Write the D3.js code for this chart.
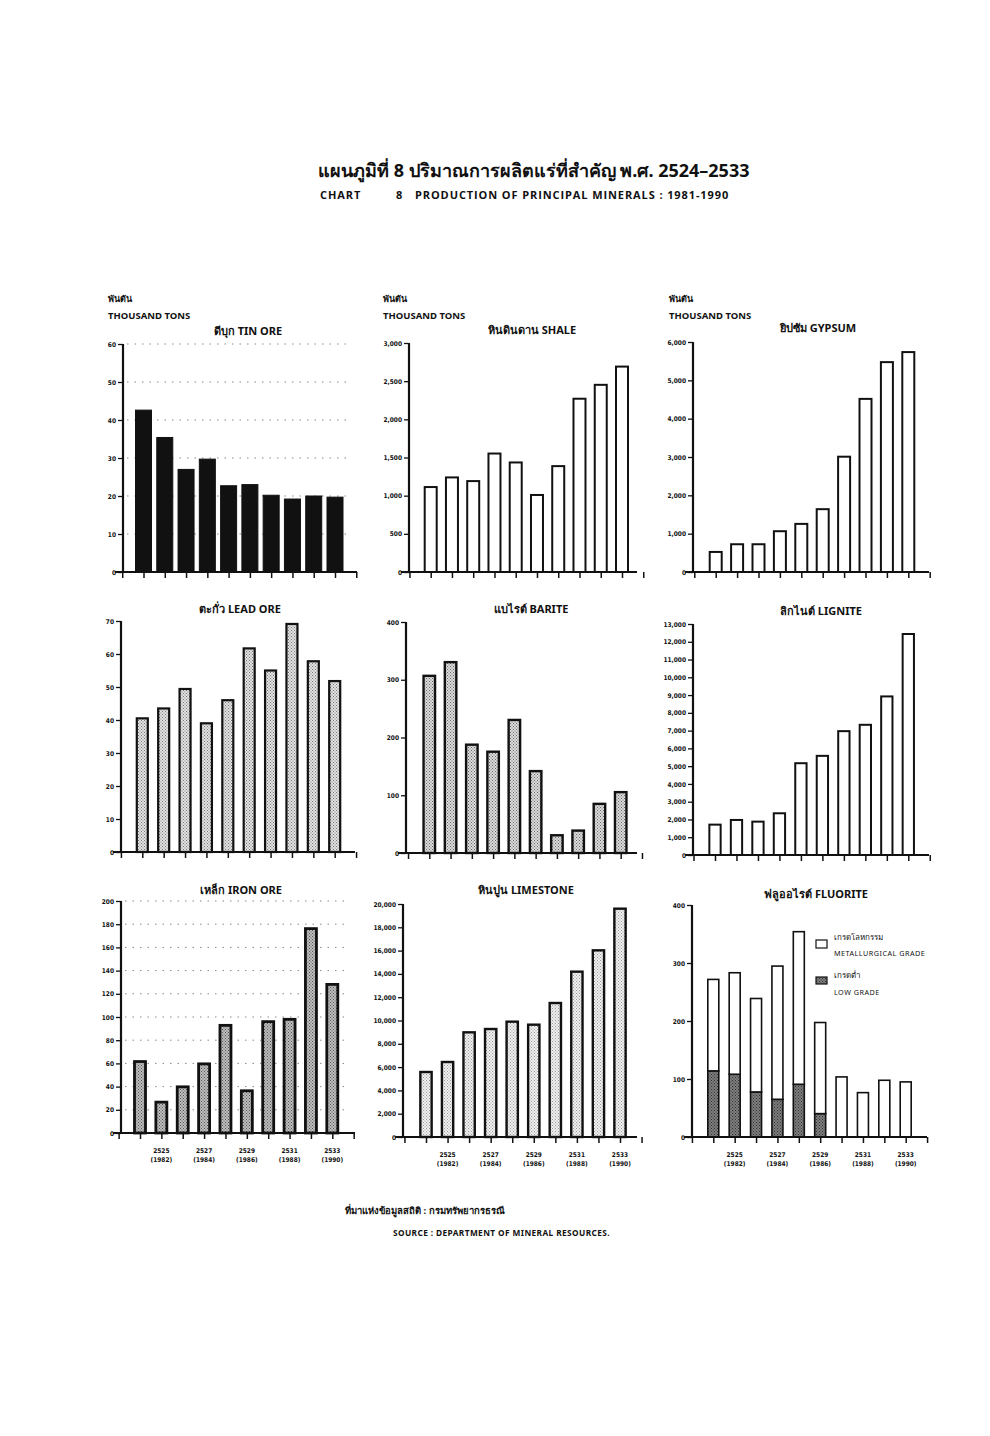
<!DOCTYPE html>
<html><head><meta charset="utf-8">
<script src="https://cdn.jsdelivr.net/npm/d3@7"></script>
<style>
body{margin:0;background:#fff;}
svg{display:block;}
text{font-family:"Noto Sans","DejaVu Sans",sans-serif;fill:#111;}
</style></head>
<body><svg id="c" width="990" height="1436"></svg>
<script>
// ---- data ----
const yearsBE = ["2524","2525","2526","2527","2528","2529","2530","2531","2532","2533"];
const yearsCE = ["1981","1982","1983","1984","1985","1986","1987","1988","1989","1990"];
const tinOre    = [42.6,35.4,27.0,29.7,22.7,23.0,20.2,19.2,20.0,19.7];
const shale     = [1113,1239,1191,1552,1435,1009,1387,2270,2452,2691];
const gypsum    = [523,724,724,1064,1255,1639,3008,4516,5475,5737];
const leadOre   = [40.5,43.5,49.4,39.0,46.0,61.7,55.0,69.1,57.8,51.8];
const barite    = [306.8,330.5,187.6,175.4,230.4,141.8,30.7,38.8,85.1,105.4];
const lignite   = [1709,1972,1878,2348,5166,5580,6970,7327,8924,12437];
const ironOre   = [61.6,26.6,39.8,59.6,92.8,36.4,96.0,98.0,176.2,128.1];
const limestone = [5579,6438,8984,9270,9900,9642,11502,14192,16023,19599];
const fluoriteLow = [114.0,108.2,77.7,65.0,90.9,40.3,0,0,0,0];
const fluoriteMet = [157.7,175.0,161.1,229.7,263.1,157.1,103.6,76.5,97.8,95.0];
const tinTicks = [0,10,20,30,40,50,60];
const shaleTicks = [0,500,1000,1500,2000,2500,3000];
const gypsumTicks = [0,1000,2000,3000,4000,5000,6000];
const leadTicks = [0,10,20,30,40,50,60,70];
const bariteTicks = [0,100,200,300,400];
const ligniteTicks = [0,1000,2000,3000,4000,5000,6000,7000,8000,9000,10000,11000,12000,13000];
const ironTicks = [0,20,40,60,80,100,120,140,160,180,200];
const limestoneTicks = [0,2000,4000,6000,8000,10000,12000,14000,16000,18000,20000];
const fluoriteTicks = [0,100,200,300,400];
const labelIdx = [1,3,5,7,9];

const svg = d3.select("#c");
const fmt = d3.format(",");

// stipple patterns
const defs = svg.append("defs");
function stipple(id, bg, dot, size){
  const p = defs.append("pattern").attr("id",id).attr("patternUnits","userSpaceOnUse")
    .attr("width",size).attr("height",size);
  p.append("rect").attr("width",size).attr("height",size).attr("fill",bg);
  p.append("rect").attr("x",0).attr("y",0).attr("width",1).attr("height",1).attr("fill",dot);
  p.append("rect").attr("x",size/2).attr("y",size/2).attr("width",1).attr("height",1).attr("fill",dot);
}
stipple("pLead","#e2e2e2","#777",3);
stipple("pBar","#dcdcdc","#666",3);
stipple("pIron","#bdbdbd","#555",3);
stipple("pLime","#f0f0f0","#999",3);
stipple("pLow","#7d7d7d","#333",3);

// titles
svg.append("text").attr("x",318).attr("y",177)
  .style("font-size","18px").style("font-weight","bold")
  .text("แผนภูมิที่ 8 ปริมาณการผลิตแร่ที่สำคัญ พ.ศ. 2524–2533");
[["CHART",320],["8",396],["PRODUCTION OF PRINCIPAL MINERALS : 1981-1990",415]].forEach(([t,x])=>{
  svg.append("text").attr("x",x).attr("y",199).style("font-size","11px").style("font-weight","bold")
    .style("letter-spacing","0.9px").style("font-family","Open Sans, Noto Sans, sans-serif").text(t);
});

// source
svg.append("text").attr("x",345).attr("y",1214).style("font-size","9.5px").style("font-weight","bold")
  .text("ที่มาแห่งข้อมูลสถิติ : กรมทรัพยากรธรณี");
svg.append("text").attr("x",393).attr("y",1236).style("font-size","8.3px").style("font-weight","bold")
  .style("letter-spacing","0.4px").text("SOURCE :  DEPARTMENT OF MINERAL RESOURCES.");

// units
[108,383,669].forEach(x=>{
  svg.append("text").attr("x",x).attr("y",302).style("font-size","9px").style("font-weight","bold").text("พันตัน");
  svg.append("text").attr("x",x).attr("y",319).style("font-size","9.5px").style("font-weight","bold").text("THOUSAND TONS");
});

function panel(o){
  const g = svg.append("g");
  const y = d3.scaleLinear().domain([0,o.max]).range([o.base,o.top]);
  const x = d3.scaleLinear().domain([0,9]).range([o.c0,o.c9]);
  if(o.grid){
    g.selectAll("line.grid").data(o.ticks.slice(1)).join("line")
      .attr("x1",o.ax+4).attr("x2",o.end-6).attr("y1",d=>y(d)).attr("y2",d=>y(d))
      .attr("stroke","#888").attr("stroke-width",1).attr("stroke-dasharray","1.5,6");
  }
  const bw=o.bw;
  if(o.low){
    g.selectAll("rect.low").data(o.low).join("rect")
      .attr("x",(d,i)=>x(i)-bw/2).attr("width",bw)
      .attr("y",d=>y(d)).attr("height",d=>o.base-y(d))
      .attr("fill","url(#pLow)").attr("stroke","#111").attr("stroke-width",1.6);
    g.selectAll("rect.met").data(o.values).join("rect")
      .attr("x",(d,i)=>x(i)-bw/2).attr("width",bw)
      .attr("y",(d,i)=>y(d+o.low[i])).attr("height",(d,i)=>y(o.low[i])-y(d+o.low[i]))
      .attr("fill","#fff").attr("stroke","#111").attr("stroke-width",1.6);
  } else {
    g.selectAll("rect.bar").data(o.values).join("rect")
      .attr("x",(d,i)=>x(i)-bw/2).attr("width",bw)
      .attr("y",d=>y(d)).attr("height",d=>o.base-y(d))
      .attr("fill",o.fill).attr("stroke","#111").attr("stroke-width",o.sw);
  }
  const ya = g.append("g").attr("transform",`translate(${o.ax},0)`)
    .call(d3.axisLeft(y).tickValues(o.ticks).tickSize(5).tickPadding(2).tickFormat(d=>fmt(d)));
  ya.select(".domain").attr("stroke","#111").attr("stroke-width",2.2).attr("d",`M0,${o.base}V${o.top}`);
  ya.selectAll(".tick line").attr("stroke","#111").attr("stroke-width",1.3);
  ya.selectAll(".tick text").style("font-size","6.5px").style("font-weight","bold")
    .style("font-family","DejaVu Sans Condensed, sans-serif").attr("fill","#111");
  const xa = g.append("g").attr("transform",`translate(0,${o.base})`)
    .call(d3.axisBottom(x).tickValues(d3.range(-1,11)).tickSize(6).tickFormat(""));
  xa.select(".domain").attr("stroke","#111").attr("stroke-width",2.2).attr("d",`M${o.ax-8},0H${o.end}`);
  xa.selectAll(".tick line").attr("stroke","#111").attr("stroke-width",1.5);
  if(o.xlabels){
    labelIdx.forEach(i=>{
      g.append("text").attr("x",x(i)).attr("y",o.base+20).attr("text-anchor","middle")
        .style("font-size","6.5px").style("font-weight","bold")
        .style("font-family","DejaVu Sans Condensed, sans-serif").text(yearsBE[i]);
      g.append("text").attr("x",x(i)).attr("y",o.base+29).attr("text-anchor","middle")
        .style("font-size","6.5px").style("font-weight","bold")
        .style("font-family","DejaVu Sans Condensed, sans-serif").text("("+yearsCE[i]+")");
    });
  }
  g.append("text").attr("x",o.tx).attr("y",o.ty).attr("text-anchor","middle")
    .style("font-size","11px").style("font-weight","bold").text(o.title);
}

panel({values:tinOre,max:60,ticks:tinTicks,ax:123,base:572,top:344,c0:143.5,c9:335,end:357,bw:16,fill:"#111",sw:1,grid:true,title:"ดีบุก TIN ORE",tx:248,ty:335});
panel({values:shale,max:3000,ticks:shaleTicks,ax:409,base:572,top:343,c0:430.7,c9:622,end:637,bw:12,fill:"#fff",sw:2,title:"หินดินดาน SHALE",tx:532,ty:334});
panel({values:gypsum,max:6000,ticks:gypsumTicks,ax:693,base:572,top:342,c0:715.7,c9:908.3,end:929,bw:12,fill:"#fff",sw:2,title:"ยิปซัม GYPSUM",tx:818,ty:332});
panel({values:leadOre,max:70,ticks:leadTicks,ax:121,base:852,top:621,c0:142.3,c9:334.7,end:355,bw:11,fill:"url(#pLead)",sw:2.2,title:"ตะกั่ว LEAD ORE",tx:240,ty:613});
panel({values:barite,max:400,ticks:bariteTicks,ax:406,base:853,top:622,c0:429.3,c9:620.7,end:637,bw:11.5,fill:"url(#pBar)",sw:2.4,title:"แบไรต์ BARITE",tx:531,ty:613});
panel({values:lignite,max:13000,ticks:ligniteTicks,ax:693,base:855,top:624,c0:715,c9:908.3,end:929,bw:11.3,fill:"#fff",sw:2,title:"ลิกไนต์ LIGNITE",tx:821,ty:615});
panel({values:ironOre,max:200,ticks:ironTicks,ax:121,base:1133,top:901,c0:140,c9:332.3,end:355,bw:11,fill:"url(#pIron)",sw:2.8,grid:true,xlabels:true,title:"เหล็ก IRON ORE",tx:241,ty:894});
panel({values:limestone,max:20000,ticks:limestoneTicks,ax:403,base:1137,top:904,c0:426,c9:620,end:637,bw:11.3,fill:"url(#pLime)",sw:2.4,xlabels:true,title:"หินปูน LIMESTONE",tx:526,ty:894});
panel({values:fluoriteMet,low:fluoriteLow,max:400,ticks:fluoriteTicks,ax:692,base:1137,top:905,c0:713.3,c9:905.7,end:927,bw:11,xlabels:true,title:"ฟลูออไรต์ FLUORITE",tx:816,ty:898});

const lg = svg.append("g");
lg.append("rect").attr("x",816).attr("y",940).attr("width",11).attr("height",8).attr("fill","#fff").attr("stroke","#111").attr("stroke-width",1.2);
lg.append("rect").attr("x",816).attr("y",977).attr("width",11).attr("height",7).attr("fill","url(#pLow)").attr("stroke","#111").attr("stroke-width",1.2);
lg.append("text").attr("x",834).attr("y",940).style("font-size","8px").text("เกรดโลหกรรม");
lg.append("text").attr("x",834).attr("y",956).style("font-size","7.2px").style("letter-spacing","0.5px").text("METALLURGICAL GRADE");
lg.append("text").attr("x",834).attr("y",978).style("font-size","8px").text("เกรดต่ำ");
lg.append("text").attr("x",834).attr("y",995).style("font-size","7.2px").style("letter-spacing","0.5px").text("LOW GRADE");
</script></body></html>
